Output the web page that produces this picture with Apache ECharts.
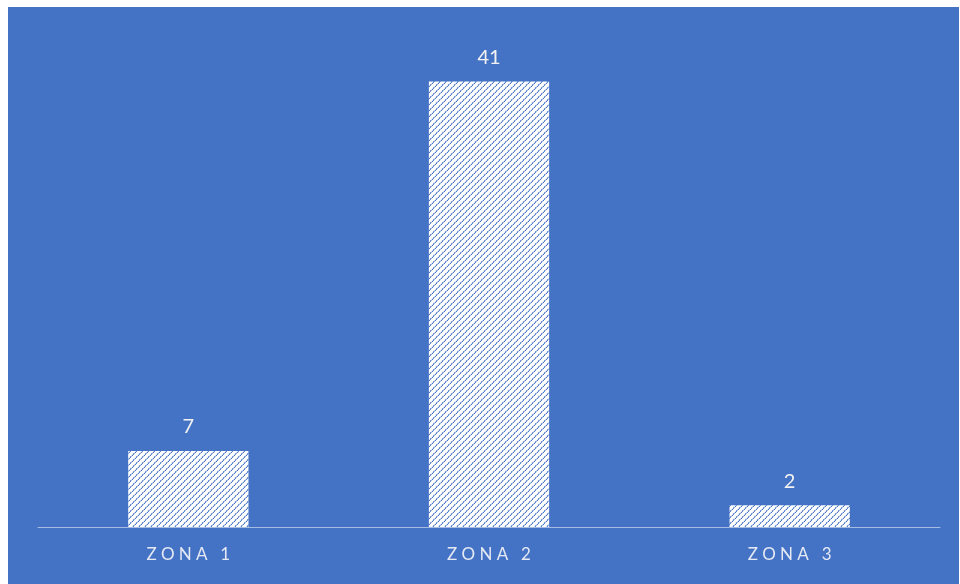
<!DOCTYPE html>
<html>
<head>
<meta charset="utf-8">
<script src="https://cdn.jsdelivr.net/npm/echarts@6/dist/echarts.min.js"></script>
<style>
html,body{margin:0;padding:0;background:#ffffff;}
#chart{width:960px;height:584px;}
</style>
</head>
<body>
<div id="chart"></div>
<script>
var categories = ['ZONA 1', 'ZONA 2', 'ZONA 3'];
var values = [7, 41, 2];

function makePattern() {
  var n = 6;
  var c = document.createElement('canvas');
  c.width = n; c.height = n;
  var ctx = c.getContext('2d');
  ctx.fillStyle = '#ffffff';
  ctx.fillRect(0, 0, n, n);
  for (var x = 0; x < n; x++) {
    ctx.fillStyle = (x % 3 === 1) ? '#7C9BD6' : '#D3DEF2';
    ctx.fillRect(x, (n - 2 - x + n) % n, 1, 1);
    ctx.fillStyle = (x % 3 === 0) ? '#4472C4' : (x % 3 === 1 ? '#5F86CD' : '#9AB2E0');
    ctx.fillRect(x, n - 1 - x, 1, 1);
  }
  return c;
}

var chart = echarts.init(document.getElementById('chart'), null, {renderer: 'canvas'});
chart.setOption({
  backgroundColor: '#ffffff',
  animation: false,
  graphic: [{
    type: 'rect', z: -10, silent: true,
    shape: {x: 8, y: 7, width: 951, height: 577},
    style: {fill: '#4472C4'}
  }],
  grid: {left: 38, right: 20, top: 38, bottom: 57},
  xAxis: {
    type: 'category',
    data: categories,
    axisLine: {lineStyle: {color: '#A6BCE5', width: 1}},
    axisTick: {show: false},
    axisLabel: {
      color: '#E4E9F4',
      fontFamily: 'Lato',
      fontSize: 17,
      margin: 19,
      formatter: function (v) { return v.split('').join('\u2009\u2009'); }
    }
  },
  yAxis: {
    type: 'value', min: 0, max: 45,
    show: false,
    splitLine: {show: false}
  },
  series: [{
    type: 'bar',
    data: values,
    barWidth: '40%',
    itemStyle: {color: {image: makePattern(), repeat: 'repeat'}},
    label: {
      show: true, position: 'top', distance: 14,
      color: '#F2F2F2', fontFamily: 'Lato', fontSize: 20
    }
  }]
});
</script>
</body>
</html>
